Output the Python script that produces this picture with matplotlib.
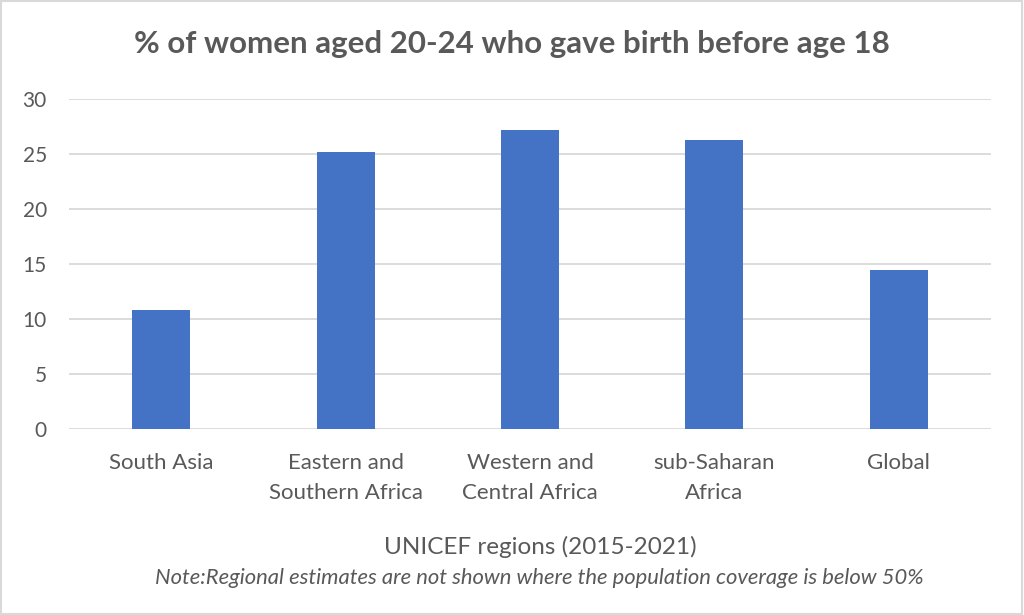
import matplotlib.pyplot as plt
from matplotlib.patches import Rectangle

# Data
regions = ['South Asia', 'Eastern and\nSouthern Africa', 'Western and\nCentral Africa',
           'sub-Saharan\nAfrica', 'Global']
pct_birth_before_18 = [10.8, 25.2, 27.2, 26.3, 14.5]
y_ticks = [0, 5, 10, 15, 20, 25, 30]

text_color = '#595959'
bar_color = '#4472c4'
grid_color = '#d9d9d9'

plt.rcParams['font.family'] = ['Lato', 'DejaVu Sans']

fig = plt.figure(figsize=(10.24, 6.15), dpi=100)
ax = fig.add_axes([69 / 1024, 1 - 429 / 615, 922 / 1024, 330 / 615])

ax.bar(range(len(regions)), pct_birth_before_18, width=0.315, color=bar_color, zorder=3)

ax.set_xlim(-0.5, len(regions) - 0.5)
ax.set_ylim(0, 30)
ax.set_yticks(y_ticks)
ax.set_xticks(range(len(regions)))
ax.set_xticklabels(regions, fontsize=16, color=text_color, linespacing=1.62)
ax.tick_params(axis='y', labelsize=15, labelcolor=text_color, length=0, pad=16)
ax.tick_params(axis='x', length=0, pad=17)
ax.grid(axis='y', color=grid_color, linewidth=1.3, zorder=0)
for s in ax.spines.values():
    s.set_visible(False)

fig.text(0.5, 1 - 44 / 615, '% of women aged 20-24 who gave birth before age 18',
         ha='center', va='center', fontsize=22.5, fontweight='bold', color=text_color)
fig.text(0.528, 1 - 547 / 615, 'UNICEF regions (2015-2021)',
         ha='center', va='center', fontsize=17.5, color=text_color)
fig.text(0.527, 1 - 578 / 615,
         'Note:Regional estimates are not shown where the population coverage is below 50%',
         ha='center', va='center', fontsize=15.8, style='italic', color=text_color)

# light border round the whole chart
fig.patches.append(Rectangle((0.001, 0.002), 0.997, 0.996, transform=fig.transFigure,
                             fill=False, edgecolor='#d9d9d9', linewidth=1.5))

fig.savefig('out.png', dpi=100)
